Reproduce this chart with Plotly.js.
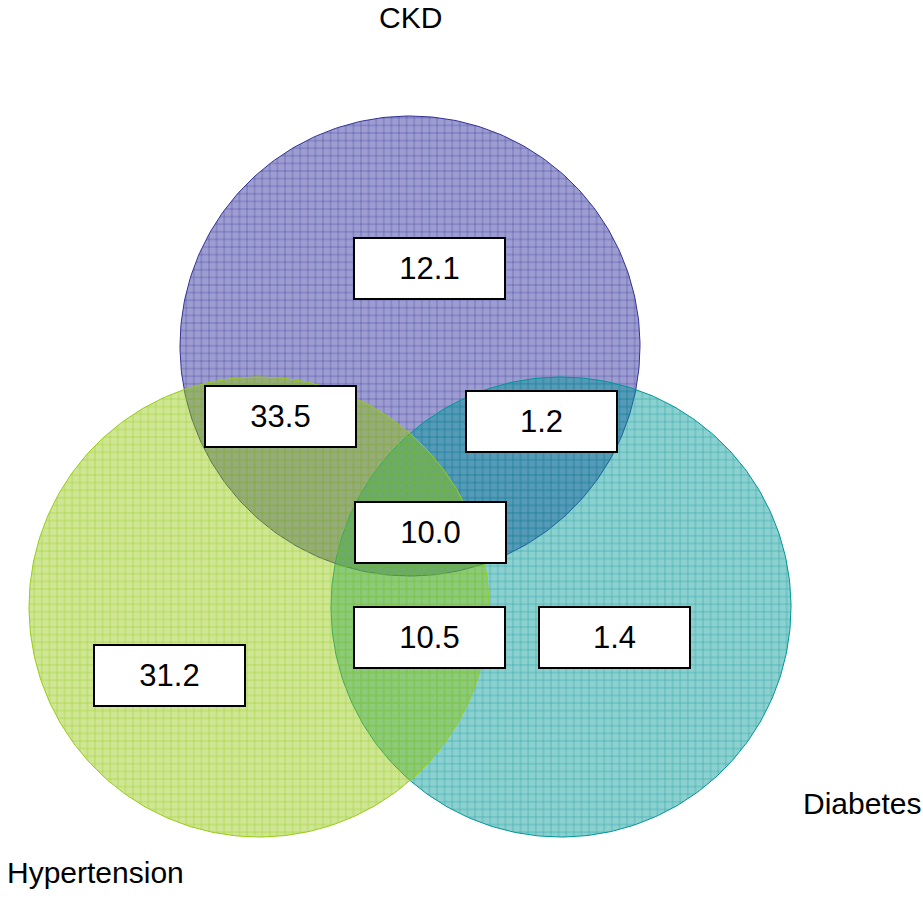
<!DOCTYPE html>
<html>
<head>
<meta charset="utf-8">
<script src="https://cdn.plot.ly/plotly-3.0.1.min.js"></script>
<style>html,body{margin:0;padding:0;background:#fff;}#chart{width:923px;height:918px;}</style>
</head>
<body>
<div id="chart"></div>
<script>
// ---- data ----
var setNames = ["CKD", "Diabetes", "Hypertension"];
var regionNames = ["CKD only", "CKD & Hypertension", "CKD & Diabetes", "All three", "Hypertension & Diabetes", "Diabetes only", "Hypertension only"];
var regionValues = [12.1, 33.5, 1.2, 10.0, 10.5, 1.4, 31.2];

// ---- layout geometry (pixel space) ----
var circleGeom = [
  {cx: 410, cy: 346, r: 230},
  {cx: 561, cy: 607, r: 230},
  {cx: 259, cy: 607, r: 230}
];
var circleStyle = [
  {bg: "rgba(60,60,165,0.5)", fg: "rgba(50,50,150,0.8)", line: "rgb(50,50,150)"},
  {bg: "rgba(0,150,150,0.45)", fg: "rgba(0,150,150,0.7)", line: "rgb(0,150,150)"},
  {bg: "rgba(140,195,0,0.42)", fg: "rgba(150,205,20,0.85)", line: "rgb(150,205,20)"}
];
var setLabelPos = [[410, 17], [862, 803], [95, 872]];
var boxPos = [[429, 268], [280, 416], [541, 421], [430, 532], [429, 637], [614, 637], [169, 675]];

var traces = [];
circleGeom.forEach(function (c, i) {
  var xs = [], ys = [];
  for (var k = 0; k <= 360; k++) {
    var a = k * Math.PI / 180;
    xs.push(c.cx + c.r * Math.cos(a));
    ys.push(c.cy + c.r * Math.sin(a));
  }
  traces.push({
    type: "scatter", mode: "lines", x: xs, y: ys, name: setNames[i],
    fill: "toself", fillcolor: circleStyle[i].bg,
    fillpattern: {shape: "+", size: 7.6, solidity: 0.13, fgcolor: circleStyle[i].fg, bgcolor: circleStyle[i].bg},
    line: {color: circleStyle[i].line, width: 1},
    hoverinfo: "skip", showlegend: false
  });
});

var annotations = [];
setNames.forEach(function (n, i) {
  annotations.push({
    x: setLabelPos[i][0], y: setLabelPos[i][1], xref: "x", yref: "y",
    text: n, showarrow: false,
    font: {family: "Liberation Sans, Arial, sans-serif", size: 30, color: "#000"}
  });
});
regionValues.forEach(function (v, i) {
  annotations.push({
    x: boxPos[i][0], y: boxPos[i][1], xref: "x", yref: "y",
    text: v.toFixed(1), showarrow: false,
    width: 147, height: 57, borderpad: 1,
    bgcolor: "#ffffff", bordercolor: "#000000", borderwidth: 2,
    font: {family: "Liberation Sans, Arial, sans-serif", size: 31, color: "#000"}
  });
});

var layout = {
  width: 923, height: 918,
  margin: {l: 0, r: 0, t: 0, b: 0},
  paper_bgcolor: "#ffffff", plot_bgcolor: "#ffffff",
  xaxis: {range: [0, 923], visible: false, fixedrange: true},
  yaxis: {range: [918, 0], visible: false, fixedrange: true},
  annotations: annotations,
  showlegend: false
};

Plotly.newPlot("chart", traces, layout, {staticPlot: true});
</script>
</body>
</html>
